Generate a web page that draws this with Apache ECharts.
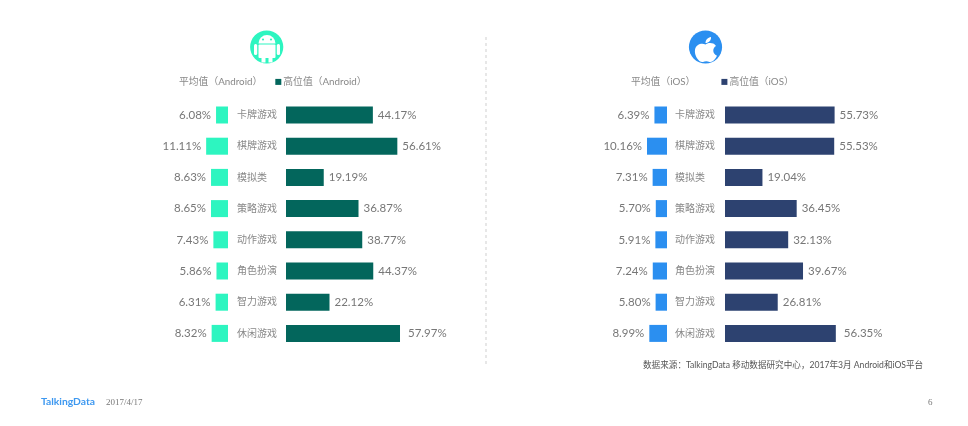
<!DOCTYPE html>
<html>
<head>
<meta charset="utf-8">
<style>html,body{margin:0;padding:0;background:#fff}#main{width:968px;height:426px}</style>
<script src="https://cdn.jsdelivr.net/npm/echarts@6/dist/echarts.min.js"></script>
</head>
<body>
<div id="main"></div>
<script>
var categories = ['卡牌游戏', '棋牌游戏', '模拟类', '策略游戏', '动作游戏', '角色扮演', '智力游戏', '休闲游戏'];
var androidAvg = [6.08, 11.11, 8.63, 8.65, 7.43, 5.86, 6.31, 8.32];
var androidHigh = [44.17, 56.61, 19.19, 36.87, 38.77, 44.37, 22.12, 57.97];
var iosAvg = [6.39, 10.16, 7.31, 5.70, 5.91, 7.24, 5.80, 8.99];
var iosHigh = [55.73, 55.53, 19.04, 36.45, 32.13, 39.67, 26.81, 56.35];

var font = 'Lato, "Noto Sans CJK SC", sans-serif';
var teal = '#2df5c0', blue = '#2b8ff0';

// 苹果图标
echarts.graphic.registerShape('appleIcon', echarts.graphic.extendPath(
    'M11.5 8.5 C13 7 19 5.5 22 10 C18.5 12 18 18 23 20.5 C21 25 18 28 15.5 27 C13.5 26 11 26 9 27 C5 28 0 20 1 14 C2 8 8 6.5 11.5 8.5 Z M11.5 7 C11.5 3.5 14 1 17 0.5 C17.5 4 14.5 7 11.5 7 Z', {}));

var myChart = echarts.init(document.getElementById('main'));

function grid(left) {
    return { left: left, top: 99.4, width: 118, height: 249.6 };
}
function xAxis(idx, inverse) {
    return { type: 'value', gridIndex: idx, min: 0, max: 60, inverse: inverse, show: false };
}
function yAxis(idx, margin) {
    return {
        type: 'category', gridIndex: idx, inverse: true, data: categories,
        axisLine: { show: false }, axisTick: { show: false }, splitLine: { show: false },
        axisLabel: { show: margin > 0, interval: 0, align: 'left', margin: margin, fontSize: 10, color: '#888', fontFamily: font }
    };
}
function bar(name, idx, data, color, pos) {
    return {
        name: name, type: 'bar', xAxisIndex: idx, yAxisIndex: idx, barWidth: 17,
        // 最后一行的标签离柱子稍远
        data: data.map(function (v, i) { return i == 7 ? { value: v, label: { distance: pos == 'right' ? 8 : 5 } } : v; }),
        animation: false, itemStyle: { color: color },
        label: {
            show: true, position: pos, distance: 5, fontSize: 11.5, color: '#777', fontFamily: font,
            formatter: function (p) { return p.value.toFixed(2) + '%'; }
        }
    };
}
function legend(left, gap, first, second, color) {
    return {
        left: left, top: 72, itemWidth: 6, itemHeight: 6, itemGap: gap, icon: 'rect',
        textStyle: { fontSize: 9.8, color: '#888', fontFamily: font, padding: [0, 0, 0, -3] },
        selectedMode: false,
        data: [{ name: first, itemStyle: { color: 'transparent' } }, { name: second, itemStyle: { color: color } }]
    };
}
function txt(x, y, s, fontStr, color) {
    return {
        type: 'text', x: x, y: y, silent: true,
        style: { text: s, font: fontStr, fill: color, textVerticalAlign: 'middle' }
    };
}
function box(x, y, w, h, r) {
    return { type: 'rect', silent: true, shape: { x: x, y: y, width: w, height: h, r: r || 0 }, style: { fill: '#fff' } };
}
function dot(x, y, r, color) {
    return { type: 'circle', silent: true, shape: { cx: x, cy: y, r: r }, style: { fill: color } };
}

var option = {
    backgroundColor: '#fff',
    grid: [grid(110), grid(286), grid(549), grid(725)],
    xAxis: [xAxis(0, true), xAxis(1, false), xAxis(2, true), xAxis(3, false)],
    yAxis: [yAxis(0, 0), yAxis(1, 49), yAxis(2, 0), yAxis(3, 50)],
    legend: [
        legend(166, 13, '平均值（Android）', '高位值（Android）', '#03665c'),
        legend(618, 26, '平均值（iOS）', '高位值（iOS）', '#2d4270')
    ],
    series: [
        bar('平均值（Android）', 0, androidAvg, teal, 'left'),
        bar('高位值（Android）', 1, androidHigh, '#03665c', 'right'),
        bar('平均值（iOS）', 2, iosAvg, blue, 'left'),
        bar('高位值（iOS）', 3, iosHigh, '#2d4270', 'right')
    ],
    graphic: [
        { type: 'line', silent: true, shape: { x1: 486, y1: 37, x2: 486, y2: 367 }, style: { stroke: '#d0d0d0', lineWidth: 1, lineDash: [3, 3] } },

        // android icon
        dot(266.7, 47, 16.6, teal),
        { type: 'sector', silent: true, shape: { cx: 267, cy: 43.5, r0: 0, r: 8.5, startAngle: Math.PI, endAngle: Math.PI * 2, clockwise: true }, style: { fill: '#fff' } },
        dot(263, 39.5, 1.1, teal),
        dot(271, 39.5, 1.1, teal),
        box(258.5, 44.5, 17, 13.5, 1),
        box(254, 44, 3.2, 11, 1.5),
        box(276.8, 44, 3.2, 11, 1.5),
        box(261.5, 57, 4, 5.5),
        box(268.5, 57, 4, 5.5),

        // ios icon
        dot(705.5, 47, 16.6, blue),
        { type: 'appleIcon', silent: true, x: 694, y: 36.5, scaleX: 1, scaleY: 0.94, style: { fill: '#fff' } },

        txt(643, 365, '数据来源：TalkingData 移动数据研究中心，2017年3月 Android和iOS平台', '8.6px ' + font, '#555'),
        txt(41, 402, 'TalkingData', 'bold 10.3px Lato', '#3d98f0'),
        txt(106, 403, '2017/4/17', '9px "Liberation Serif"', '#777'),
        txt(928, 403, '6', '9px "Liberation Serif"', '#777')
    ]
};
myChart.setOption(option);
</script>
</body>
</html>
